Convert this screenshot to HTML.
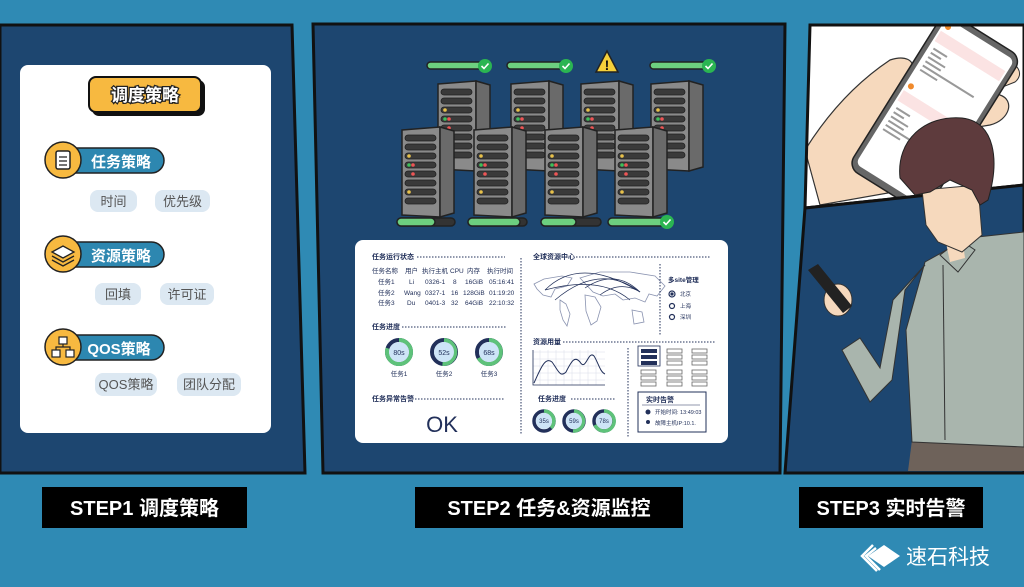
<!DOCTYPE html>
<html><head><meta charset="utf-8"><style>
html,body{margin:0;padding:0;background:#2f8ab4;}
svg{display:block}
text{font-family:"Liberation Sans","Noto Sans CJK SC",sans-serif;}
</style></head><body>
<svg width="1024" height="587" viewBox="0 0 1024 587" xmlns="http://www.w3.org/2000/svg">
<defs>
<clipPath id="tp"><polygon points="810,25 1024,25 1024,185 805,208"/></clipPath>
<g id="srv">
  <polygon points="0,3 38,0 52,4 52,86 38,90 0,88" fill="#555"/>
  <polygon points="0,3 38,0 38,90 0,88" fill="#8a8a8a" stroke="#222" stroke-width="1.5"/>
  <polygon points="38,0 52,4 52,86 38,90" fill="#6a6a6a" stroke="#222" stroke-width="1.5"/>
  <g fill="#3a3a3a" stroke="#222" stroke-width="0.8">
    <rect x="3" y="8" width="31" height="6" rx="3"/><rect x="3" y="17" width="31" height="6" rx="3"/>
    <rect x="3" y="26" width="31" height="6" rx="3"/><rect x="3" y="35" width="31" height="6" rx="3"/>
    <rect x="3" y="44" width="31" height="6" rx="3"/><rect x="3" y="53" width="31" height="6" rx="3"/>
    <rect x="3" y="62" width="31" height="6" rx="3"/><rect x="3" y="71" width="31" height="6" rx="3"/>
  </g>
  <circle cx="7" cy="29" r="1.8" fill="#e8c14a"/><circle cx="7" cy="38" r="1.8" fill="#3fbf5a"/><circle cx="11" cy="38" r="1.8" fill="#e55"/>
  <circle cx="11" cy="47" r="1.8" fill="#e55"/><circle cx="7" cy="65" r="1.8" fill="#e8c14a"/>
</g>
<g id="chk"><circle r="7" fill="#2bb552"/><path d="M-3.5,0 L-1,2.5 L3.5,-2.5" stroke="#fff" stroke-width="1.6" fill="none"/></g>
</defs>

<rect width="1024" height="587" fill="#2f8ab4"/>

<!-- Panel 1 -->
<polygon points="0,25 292,25 305,473 0,473" fill="#1d4670" stroke="#111" stroke-width="3"/>
<rect x="20" y="65" width="251" height="368" rx="8" fill="#fff"/>
<rect x="92" y="80" width="113" height="36" rx="7" fill="#111"/>
<rect x="89" y="77" width="112" height="35" rx="7" fill="#f7b940" stroke="#111" stroke-width="2"/>
<text x="145" y="101" text-anchor="middle" font-size="17" font-weight="bold" fill="#fff" stroke="#222" stroke-width="2.5" paint-order="stroke">调度策略</text>

<g>
 <rect x="62" y="148" width="102" height="25" rx="12.5" fill="#2d87b0" stroke="#222" stroke-width="1.5"/>
 <circle cx="63" cy="160" r="18" fill="#f7b940" stroke="#222" stroke-width="1.5"/>
 <rect x="56" y="151" width="14" height="18" rx="2" fill="#fff" stroke="#222" stroke-width="1.5"/>
 <path d="M59,157h8M59,161h8M59,165h8" stroke="#222" stroke-width="1.3"/>
 <text x="121" y="167" text-anchor="middle" font-size="15" font-weight="bold" fill="#fff">任务策略</text>
 <rect x="90" y="190" width="47" height="22" rx="8" fill="#dce8f2"/><text x="113.5" y="206" text-anchor="middle" font-size="13" fill="#555">时间</text>
 <rect x="155" y="190" width="55" height="22" rx="8" fill="#dce8f2"/><text x="182.5" y="206" text-anchor="middle" font-size="13" fill="#555">优先级</text>
</g>
<g>
 <rect x="62" y="242" width="102" height="25" rx="12.5" fill="#2d87b0" stroke="#222" stroke-width="1.5"/>
 <circle cx="63" cy="254" r="18" fill="#f7b940" stroke="#222" stroke-width="1.5"/>
 <path d="M52,252 L63,246 L74,252 L63,258 Z" fill="#fff" stroke="#222" stroke-width="1.3"/>
 <path d="M52,256 L63,262 L74,256 M52,260 L63,266 L74,260" fill="none" stroke="#222" stroke-width="1.3"/>
 <text x="121" y="261" text-anchor="middle" font-size="15" font-weight="bold" fill="#fff">资源策略</text>
 <rect x="95" y="283" width="46" height="22" rx="8" fill="#dce8f2"/><text x="118" y="299" text-anchor="middle" font-size="13" fill="#555">回填</text>
 <rect x="160" y="283" width="54" height="22" rx="8" fill="#dce8f2"/><text x="187" y="299" text-anchor="middle" font-size="13" fill="#555">许可证</text>
</g>
<g>
 <rect x="62" y="335" width="102" height="25" rx="12.5" fill="#2d87b0" stroke="#222" stroke-width="1.5"/>
 <circle cx="63" cy="347" r="18" fill="#f7b940" stroke="#222" stroke-width="1.5"/>
 <rect x="59" y="337" width="8" height="7" fill="#fff" stroke="#222" stroke-width="1.2"/>
 <rect x="52" y="350" width="8" height="7" fill="#fff" stroke="#222" stroke-width="1.2"/>
 <rect x="66" y="350" width="8" height="7" fill="#fff" stroke="#222" stroke-width="1.2"/>
 <path d="M63,344v3M56,350v-3h14v3" fill="none" stroke="#222" stroke-width="1.2"/>
 <text x="119" y="354" text-anchor="middle" font-size="15" font-weight="bold" fill="#fff">QOS策略</text>
 <rect x="95" y="373" width="62" height="23" rx="8" fill="#dce8f2"/><text x="126" y="389" text-anchor="middle" font-size="13" fill="#555">QOS策略</text>
 <rect x="177" y="373" width="64" height="23" rx="8" fill="#dce8f2"/><text x="209" y="389" text-anchor="middle" font-size="13" fill="#555">团队分配</text>
</g>

<!-- Panel 2 -->
<polygon points="313,24 785,24 780,473 323,473" fill="#1d4670" stroke="#111" stroke-width="3"/>
<g stroke="#222" stroke-width="1.5">
 <rect x="427" y="62" width="60" height="7" rx="3.5" fill="#6dcf7f"/>
 <rect x="507" y="62" width="60" height="7" rx="3.5" fill="#6dcf7f"/>
 <rect x="650" y="62" width="60" height="7" rx="3.5" fill="#6dcf7f"/>
</g>
<use href="#chk" x="485" y="66"/><use href="#chk" x="566" y="66"/><use href="#chk" x="709" y="66"/>
<polygon points="607,51 596,72 618,72" fill="#f5d03a" stroke="#222" stroke-width="1.5"/>
<text x="607" y="70" text-anchor="middle" font-size="14" font-weight="bold" fill="#111">!</text>
<use href="#srv" x="438" y="81"/><use href="#srv" x="511" y="81"/><use href="#srv" x="581" y="81"/><use href="#srv" x="651" y="81"/>
<use href="#srv" x="402" y="127"/><use href="#srv" x="474" y="127"/><use href="#srv" x="545" y="127"/><use href="#srv" x="615" y="127"/>
<g stroke="#222" stroke-width="1.5">
 <rect x="397" y="218" width="58" height="8" rx="4" fill="#333"/><rect x="397" y="218" width="38" height="8" rx="4" fill="#6dcf7f"/>
 <rect x="468" y="218" width="59" height="8" rx="4" fill="#333"/><rect x="468" y="218" width="52" height="8" rx="4" fill="#6dcf7f"/>
 <rect x="541" y="218" width="60" height="8" rx="4" fill="#333"/><rect x="541" y="218" width="35" height="8" rx="4" fill="#6dcf7f"/>
 <rect x="608" y="218" width="60" height="8" rx="4" fill="#6dcf7f"/>
</g>
<use href="#chk" x="667" y="222"/>

<!-- dashboard -->
<rect x="355" y="240" width="373" height="203" rx="8" fill="#fff"/>
<g fill="#22305a" font-size="6.5">
 <text x="372" y="259" font-weight="bold" font-size="7">任务运行状态</text>
 <line x1="417" y1="257" x2="505" y2="257" stroke="#22305a" stroke-dasharray="1.5 1.5"/>
 <text x="372" y="273">任务名称</text><text x="405" y="273">用户</text><text x="422" y="273">执行主机</text><text x="450" y="273">CPU</text><text x="467" y="273">内存</text><text x="487" y="273">执行时间</text>
 <text x="378" y="284">任务1</text><text x="409" y="284">Li</text><text x="425" y="284">0326-1</text><text x="453" y="284">8</text><text x="465" y="284">16GiB</text><text x="489" y="284">05:16:41</text>
 <text x="378" y="295">任务2</text><text x="404" y="295">Wang</text><text x="425" y="295">0327-1</text><text x="451" y="295">16</text><text x="463" y="295">128GiB</text><text x="489" y="295">01:19:20</text>
 <text x="378" y="305">任务3</text><text x="407" y="305">Du</text><text x="425" y="305">0401-3</text><text x="451" y="305">32</text><text x="465" y="305">64GiB</text><text x="489" y="305">22:10:32</text>
 <text x="372" y="329" font-weight="bold" font-size="7">任务进度</text>
 <line x1="402" y1="327" x2="507" y2="327" stroke="#22305a" stroke-dasharray="1.5 1.5"/>
 <text x="372" y="401" font-weight="bold" font-size="7">任务异常告警</text>
 <line x1="412" y1="399" x2="505" y2="399" stroke="#22305a" stroke-dasharray="1.5 1.5"/>
 <text x="442" y="432" font-size="22" text-anchor="middle">OK</text>
 <text x="399" y="376" text-anchor="middle">任务1</text><text x="444" y="376" text-anchor="middle">任务2</text><text x="489" y="376" text-anchor="middle">任务3</text>
</g>
<line x1="521" y1="258" x2="521" y2="435" stroke="#22305a" stroke-dasharray="1.5 1.5"/>
<g fill="none" stroke-width="4">
 <circle cx="399" cy="352" r="12" stroke="#22305a"/><path d="M399,340 A12,12 0 1 1 387.6,348.3" stroke="#5ec27a"/>
 <circle cx="444" cy="352" r="12" stroke="#22305a"/><path d="M444,340 A12,12 0 0 1 442.5,364" stroke="#5ec27a"/>
 <circle cx="489" cy="352" r="12" stroke="#22305a"/><path d="M489,340 A12,12 0 1 1 478.5,358" stroke="#5ec27a"/>
</g>
<g fill="#cde4f7"><circle cx="399" cy="352" r="10"/><circle cx="444" cy="352" r="10"/><circle cx="489" cy="352" r="10"/></g>
<g fill="#22305a" font-size="7" text-anchor="middle"><text x="399" y="355">80s</text><text x="444" y="355">52s</text><text x="489" y="355">68s</text></g>

<g fill="#22305a" font-size="7" font-weight="bold">
 <text x="533" y="259">全球资源中心</text>
 <line x1="576" y1="257" x2="710" y2="257" stroke="#22305a" stroke-dasharray="1.5 1.5"/>
 <text x="668" y="282" font-size="6.5">多site管理</text>
 <text x="533" y="344">资源用量</text>
 <line x1="563" y1="342" x2="715" y2="342" stroke="#22305a" stroke-dasharray="1.5 1.5"/>
 <text x="538" y="401">任务进度</text>
 <line x1="571" y1="399" x2="615" y2="399" stroke="#22305a" stroke-dasharray="1.5 1.5"/>
</g>
<g fill="none" stroke="#8a93b0" stroke-width="0.8">
 <path d="M534,284 l10,-5 l18,-3 l10,2 l-5,8 l-12,3 l-4,8 l-8,-2 l-6,-6 Z"/>
 <path d="M560,300 l6,4 l4,10 l-3,12 l-4,-6 l-3,-10 Z"/>
 <path d="M580,278 l20,-6 l30,0 l25,4 l10,10 l-8,10 l-8,-2 l-4,8 l-10,-4 l-12,2 l-8,-6 l-12,2 l-10,-4 Z"/>
 <path d="M585,295 l10,2 l6,10 l-4,14 l-6,4 l-5,-14 Z"/>
 <path d="M632,310 l10,2 l2,10 l-10,2 Z"/>
</g>
<g fill="none" stroke="#22305a" stroke-width="0.7">
 <path d="M545,290 Q580,255 640,292"/><path d="M555,300 Q600,262 640,292"/><path d="M585,288 Q615,268 640,292"/><path d="M600,295 Q620,280 640,292"/><path d="M545,290 Q600,275 630,300"/>
</g>
<line x1="660" y1="264" x2="660" y2="335" stroke="#22305a" stroke-dasharray="1.5 1.5"/>
<circle cx="672" cy="294" r="3" fill="#fff" stroke="#22305a" stroke-width="1.2"/><circle cx="672" cy="294" r="1.6" fill="#22305a"/>
<circle cx="672" cy="306" r="2.5" fill="#fff" stroke="#22305a" stroke-width="1.2"/>
<circle cx="672" cy="317" r="2.5" fill="#fff" stroke="#22305a" stroke-width="1.2"/>
<g fill="#22305a" font-size="5.5"><text x="680" y="296">北京</text><text x="680" y="308">上海</text><text x="680" y="319">深圳</text></g>
<g stroke="#d8dce8" stroke-width="0.5">
 <path d="M533,352h72M533,359h72M533,366h72M533,373h72M533,380h72M540,350v35M548,350v35M556,350v35M564,350v35M572,350v35M580,350v35M588,350v35M596,350v35"/>
</g>
<path d="M533,350v35h72" fill="none" stroke="#22305a" stroke-width="0.8"/>
<path d="M534,383 C540,370 545,356 552,362 C558,370 560,378 566,372 C572,360 575,356 580,362 C586,372 588,350 594,356 C598,362 600,372 605,374" fill="none" stroke="#22305a" stroke-width="1"/>
<g fill="none" stroke-width="3.5">
 <circle cx="544" cy="421" r="10" stroke="#22305a"/><path d="M544,411 A10,10 0 0 1 551,428" stroke="#5ec27a"/>
 <circle cx="574" cy="421" r="10" stroke="#22305a"/><path d="M574,411 A10,10 0 0 1 573,431" stroke="#5ec27a"/>
 <circle cx="604" cy="421" r="10" stroke="#22305a"/><path d="M604,411 A10,10 0 1 1 595,425" stroke="#5ec27a"/>
</g>
<g fill="#cde4f7"><circle cx="544" cy="421" r="8"/><circle cx="574" cy="421" r="8"/><circle cx="604" cy="421" r="8"/></g>
<g fill="#22305a" font-size="6" text-anchor="middle"><text x="544" y="423">35s</text><text x="574" y="423">59s</text><text x="604" y="423">78s</text></g>
<line x1="628" y1="348" x2="628" y2="438" stroke="#22305a" stroke-dasharray="1.5 1.5"/>
<rect x="638" y="346" width="22" height="20" fill="none" stroke="#22305a" stroke-width="0.8"/>
<g fill="#fff" stroke="#666" stroke-width="0.8">
 <g fill="#22305a" stroke="none"><rect x="641" y="349" width="16" height="4"/><rect x="641" y="355" width="16" height="4"/><rect x="641" y="361" width="16" height="4"/></g>
 <rect x="667" y="349" width="15" height="4"/><rect x="667" y="355" width="15" height="4"/><rect x="667" y="361" width="15" height="4"/>
 <rect x="692" y="349" width="15" height="4"/><rect x="692" y="355" width="15" height="4"/><rect x="692" y="361" width="15" height="4"/>
 <rect x="641" y="370" width="15" height="4"/><rect x="641" y="376" width="15" height="4"/><rect x="641" y="382" width="15" height="4"/>
 <rect x="667" y="370" width="15" height="4"/><rect x="667" y="376" width="15" height="4"/><rect x="667" y="382" width="15" height="4"/>
 <rect x="692" y="370" width="15" height="4"/><rect x="692" y="376" width="15" height="4"/><rect x="692" y="382" width="15" height="4"/>
</g>
<rect x="638" y="392" width="68" height="40" fill="#fff" stroke="#22305a" stroke-width="1"/>
<line x1="642" y1="405" x2="700" y2="405" stroke="#22305a" stroke-width="0.6"/>
<g fill="#22305a" font-size="5.5">
 <text x="646" y="402" font-size="7" font-weight="bold">实时告警</text>
 <circle cx="648" cy="412" r="2.5"/><text x="655" y="414">开始时间: 13:49:03</text>
 <circle cx="648" cy="422" r="2"/><text x="655" y="425">故障主机IP:10.1.</text>
</g>

<!-- Panel 3 top -->
<polygon points="810,25 1024,25 1024,185 805,208" fill="#fff"/>
<g clip-path="url(#tp)">
 <path d="M805,150 C830,110 860,80 890,60 C905,55 915,60 912,70 L940,60 L1000,95 C1015,100 1010,120 990,125 L960,130 L905,190 L820,205 Z" fill="#f6d9bd" stroke="#333" stroke-width="1.2"/>
 <path d="M1000,60 C1020,62 1024,75 1015,82 L995,90 Z" fill="#f6d9bd" stroke="#333" stroke-width="1"/>
 <g transform="rotate(32 935 112)">
  <rect x="890" y="20" width="90" height="185" rx="12" fill="#666" stroke="#222" stroke-width="1.5"/>
  <rect x="895" y="26" width="80" height="172" rx="6" fill="#fff"/>
  <rect x="897" y="40" width="76" height="12" fill="#fbe3e3"/>
  <rect x="897" y="110" width="76" height="12" fill="#fbe3e3"/>
  <g fill="#999"><rect x="900" y="58" width="16" height="2"/><rect x="900" y="63" width="12" height="2"/><rect x="900" y="68" width="20" height="2"/><rect x="900" y="73" width="18" height="2"/><rect x="900" y="78" width="60" height="2"/><rect x="900" y="83" width="20" height="2"/>
  <rect x="900" y="128" width="16" height="2"/><rect x="900" y="133" width="12" height="2"/><rect x="900" y="138" width="20" height="2"/><rect x="900" y="143" width="18" height="2"/><rect x="900" y="148" width="60" height="2"/><rect x="900" y="153" width="20" height="2"/></g>
  <circle cx="901" cy="33" r="3" fill="#f08a2c"/><circle cx="901" cy="103" r="3" fill="#f08a2c"/>
 </g>
</g>
<polygon points="810,25 1024,25 1024,185 805,208" fill="none" stroke="#111" stroke-width="3"/>
<!-- Panel 3 bottom -->
<polygon points="805,208 1024,185 1024,473 785,473" fill="#1d4670" stroke="#111" stroke-width="3"/>
<!-- person -->
<path d="M912,440 L1024,445 L1024,471 L908,471 Z" fill="#6e625a"/>
<path d="M925,262 L968,238 L1024,232 L1024,447 L912,442 L906,330 Z" fill="#a9b5ad" stroke="#333" stroke-width="1"/>
<path d="M925,265 L905,290 L892,380 L870,402 L842,350 L860,338 L880,368 L893,300 Z" fill="#a9b5ad" stroke="#333" stroke-width="1"/>
<path d="M940,255 L958,272 L975,250 L960,240 Z" fill="#a9b5ad" stroke="#333" stroke-width="1"/>
<path d="M945,238 L962,236 L965,258 L950,262 Z" fill="#f6d9bd"/>
<path d="M922,190 L978,185 L982,235 L962,252 L938,242 L926,225 Z" fill="#f6d9bd" stroke="#333" stroke-width="1"/>
<path d="M900,178 C896,140 925,115 962,118 C995,122 1000,160 988,200 L980,205 L972,190 L950,180 L930,192 L915,195 Z" fill="#5e3b3d" stroke="#222" stroke-width="1"/>
<ellipse cx="838" cy="300" rx="14" ry="16" fill="#f6d9bd" stroke="#333" stroke-width="1"/>
<path d="M808,270 L818,264 L852,306 L843,313 Z" fill="#222"/>
<line x1="943" y1="265" x2="945" y2="440" stroke="#333" stroke-width="1"/>

<!-- step labels -->
<rect x="42" y="487" width="205" height="41" fill="#000"/>
<text x="144.5" y="515" text-anchor="middle" font-size="20" font-weight="bold" fill="#fff">STEP1 调度策略</text>
<rect x="415" y="487" width="268" height="41" fill="#000"/>
<text x="549" y="515" text-anchor="middle" font-size="20" font-weight="bold" fill="#fff">STEP2 任务&amp;资源监控</text>
<rect x="799" y="487" width="184" height="41" fill="#000"/>
<text x="891" y="515" text-anchor="middle" font-size="20" font-weight="bold" fill="#fff">STEP3 实时告警</text>

<!-- logo -->
<polygon points="884,545 900,556 884,567 868,556" fill="#fff"/>
<path d="M876,548 L866,556 L880,570 M873,545 L862,556 L877,571" fill="none" stroke="#fff" stroke-width="2.5"/>
<text x="906" y="564" font-size="21" fill="#fff">速石科技</text>
</svg>
</body></html>
